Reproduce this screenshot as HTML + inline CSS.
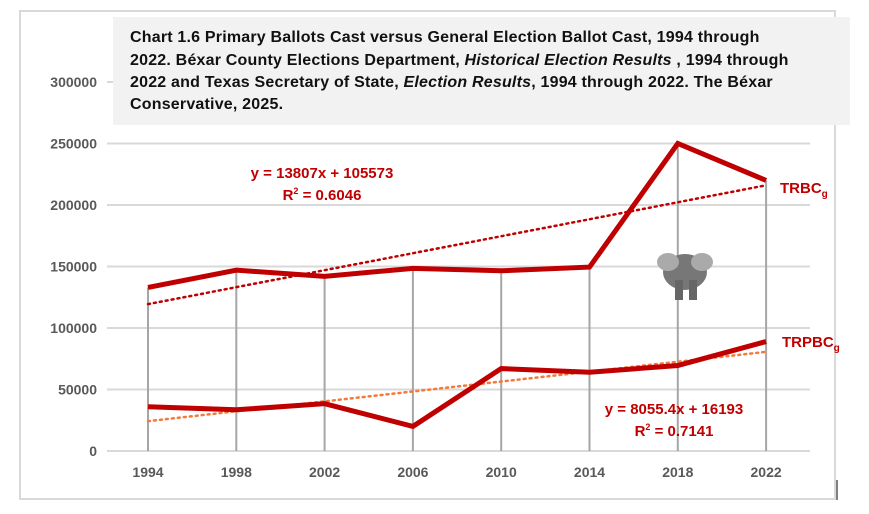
<!DOCTYPE html>
<html><head><meta charset="utf-8"><style>
body{margin:0;background:#fff;width:869px;height:509px;overflow:hidden;font-family:"Liberation Sans",Arial,sans-serif}
</style></head><body>
<svg width="869" height="509" xmlns="http://www.w3.org/2000/svg">
<rect x="20" y="11" width="815" height="488" fill="#fff" stroke="#d9d9d9" stroke-width="2"/>
<line x1="837" y1="480" x2="837" y2="500" stroke="#000" stroke-width="1"/>
<g id="grid"></g>
<g id="ylab"></g>
<g id="xlab"></g>
<g id="drops"></g>
<g id="series"></g>
<rect x="113" y="17" width="737" height="108" fill="#f2f2f2"/>
<text font-size="16" font-weight="bold" fill="#111" letter-spacing="0.2">
<tspan x="130" y="42">Chart 1.6 Primary Ballots Cast versus General Election Ballot Cast, 1994 through</tspan>
<tspan x="130" y="65">2022. Béxar County Elections Department, <tspan font-style="italic">Historical Election Results</tspan> , 1994 through</tspan>
<tspan x="130" y="87">2022 and Texas Secretary of State, <tspan font-style="italic">Election Results</tspan>, 1994 through 2022. The Béxar</tspan>
<tspan x="130" y="109">Conservative, 2025.</tspan>
</text>
<g font-size="15" font-weight="bold" fill="#c00000" text-anchor="middle">
<text x="322" y="178">y = 13807x + 105573</text>
<text x="322" y="200">R<tspan font-size="9" dy="-6">2</tspan><tspan dy="6"> = 0.6046</tspan></text>
<text x="674" y="414">y = 8055.4x + 16193</text>
<text x="674" y="436">R<tspan font-size="9" dy="-6">2</tspan><tspan dy="6"> = 0.7141</tspan></text>
</g>
<text x="780" y="193" font-size="15" font-weight="bold" fill="#c00000">TRBC<tspan font-size="10" dy="4">g</tspan></text>
<text x="782" y="347" font-size="15" font-weight="bold" fill="#c00000">TRPBC<tspan font-size="10" dy="4">g</tspan></text>
<g>
<ellipse cx="685" cy="272" rx="22" ry="18" fill="#777"/>
<ellipse cx="668" cy="262" rx="11" ry="9" fill="#aaa"/>
<ellipse cx="702" cy="262" rx="11" ry="9" fill="#aaa"/>
<rect x="675" y="280" width="8" height="20" fill="#666"/>
<rect x="689" y="280" width="8" height="20" fill="#666"/>
</g>
<script>
const years=["1994","1998","2002","2006","2010","2014","2018","2022"];
const trbc=[133000,147000,142000,148500,146500,149500,250000,220000];
const trpbc=[36000,33500,38500,20000,67000,64000,69500,89000];
const yTicks=[0,50000,100000,150000,200000,250000,300000];
const trendTop=[13807,105573];
const trendBot=[8055.4,16193];
const NS="http://www.w3.org/2000/svg";
const X=i=>148+i*88.3;
const Y=v=>451-v*(369/300000);
function el(t,a,p){const e=document.createElementNS(NS,t);for(const k in a)e.setAttribute(k,a[k]);document.getElementById(p).appendChild(e);return e;}
yTicks.forEach(v=>{
 const l=el('line',{x1:107,x2:810,y1:Y(v),y2:Y(v),stroke:'#d9d9d9','stroke-width':2},'grid');
 
 
 const t=el('text',{x:97,y:Y(v)+5,'text-anchor':'end','font-size':14,'font-weight':'bold',fill:'#595959'},'ylab');
 t.textContent=v;
 
 
});
years.forEach((yr,i)=>{
 const t=el('text',{x:X(i),y:477,'text-anchor':'middle','font-size':14,'font-weight':'bold',fill:'#595959'},'xlab');
 t.textContent=yr;
 
 
 const l=el('line',{x1:X(i),x2:X(i),y1:Y(0),y2:Y(Math.max(trbc[i],trpbc[i])),stroke:'#a6a6a6','stroke-width':2},'drops');
 
 
});
function trend(c,col,name){
 const n=years.length;
 const l=el('line',{x1:X(0),y1:Y(c[0]*1+c[1]),x2:X(n-1),y2:Y(c[0]*n+c[1]),stroke:col,'stroke-width':2.5,'stroke-dasharray':'2 4','stroke-linecap':'round'},'series');
 
 
}
function line(d,name){
 const p=el('polyline',{points:d.map((v,i)=>X(i)+','+Y(v)).join(' '),fill:'none',stroke:'#c00000','stroke-width':5,'stroke-linejoin':'miter'},'series');
 
 
}
trend(trendTop,'#c00000','trendline-trbc');
trend(trendBot,'#f4793b','trendline-trpbc');
line(trbc,'line-trbc');
line(trpbc,'line-trpbc');
</script>
</svg>
</body></html>
